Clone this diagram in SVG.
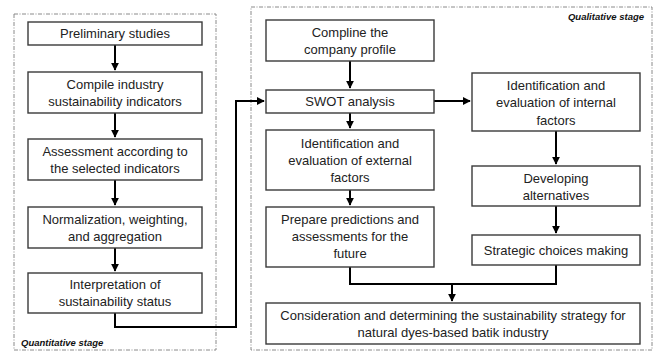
<svg xmlns="http://www.w3.org/2000/svg" width="656" height="352" viewBox="0 0 656 352">
<defs>
<marker id="ah" viewBox="0 0 10 10" refX="9" refY="5" markerWidth="4" markerHeight="4" orient="auto" markerUnits="strokeWidth">
<path d="M0,0 L10,5 L0,10 z" fill="#000"/>
</marker>
<style>
.box{fill:#fff;stroke:#3a3a3a;stroke-width:1.4}
.frame{fill:none;stroke:#8a8a8a;stroke-width:1;stroke-dasharray:4 1.5 1 1.5}
.t{font-family:"Liberation Sans",Arial,sans-serif;font-size:13px;fill:#222;text-anchor:middle}
.lbl{font-family:"Liberation Sans",Arial,sans-serif;font-size:9.5px;font-weight:bold;font-style:italic;fill:#111}
.c{fill:none;stroke:#000;stroke-width:2}
</style>
</defs>
<rect width="656" height="352" fill="#fff"/>
<g id="frames">
<rect class="frame" x="14" y="14" width="202" height="336"/>
<rect class="frame" x="251" y="7" width="401" height="343"/>
<text class="lbl" x="644" y="20" text-anchor="end">Qualitative stage</text>
<text class="lbl" x="21" y="346">Quantitative stage</text>
</g>
<g id="connectors">
<path class="c" d="M115,45 V70" marker-end="url(#ah)"/>
<path class="c" d="M115,113 V137" marker-end="url(#ah)"/>
<path class="c" d="M115,180 V205" marker-end="url(#ah)"/>
<path class="c" d="M115,248 V271" marker-end="url(#ah)"/>
<path class="c" d="M115,313 V327 H236 V101 H264" marker-end="url(#ah)"/>
<path class="c" d="M350,61 V88" marker-end="url(#ah)"/>
<path class="c" d="M350,113 V128" marker-end="url(#ah)"/>
<path class="c" d="M350,190 V205" marker-end="url(#ah)"/>
<path class="c" d="M434,101 H470" marker-end="url(#ah)"/>
<path class="c" d="M556,131 V164" marker-end="url(#ah)"/>
<path class="c" d="M556,206 V233" marker-end="url(#ah)"/>
<path class="c" d="M350,267 V284 H556 V265"/>
<path class="c" d="M452,284 V301" marker-end="url(#ah)"/>
</g>
<g id="n1"><rect class="box" x="28" y="22" width="174" height="23"/><text class="t" x="115" y="38">Preliminary studies</text></g>
<g id="n2"><rect class="box" x="28" y="72" width="174" height="41"/><text class="t" x="115" y="88.5">Compile industry</text><text class="t" x="115" y="105.5">sustainability indicators</text></g>
<g id="n3"><rect class="box" x="28" y="139" width="174" height="41"/><text class="t" x="115" y="155.5">Assessment according to</text><text class="t" x="115" y="172.5">the selected indicators</text></g>
<g id="n4"><rect class="box" x="28" y="207" width="174" height="41"/><text class="t" x="115" y="223.5">Normalization, weighting,</text><text class="t" x="115" y="240.5">and aggregation</text></g>
<g id="n5"><rect class="box" x="28" y="273" width="174" height="40"/><text class="t" x="115" y="288.5">Interpretation of</text><text class="t" x="115" y="306">sustainability status</text></g>
<g id="n6"><rect class="box" x="266" y="20" width="168" height="41"/><text class="t" x="350" y="36.5">Compline the</text><text class="t" x="350" y="53.5">company profile</text></g>
<g id="n7"><rect class="box" x="266" y="90" width="168" height="23"/><text class="t" x="350" y="106">SWOT analysis</text></g>
<g id="n8"><rect class="box" x="266" y="130" width="168" height="60"/><text class="t" x="350" y="147.5">Identification and</text><text class="t" x="350" y="165">evaluation of external</text><text class="t" x="350" y="182">factors</text></g>
<g id="n9"><rect class="box" x="266" y="207" width="168" height="60"/><text class="t" x="350" y="223.5">Prepare predictions and</text><text class="t" x="350" y="240.5">assessments for the</text><text class="t" x="350" y="257.5">future</text></g>
<g id="n10"><rect class="box" x="472" y="73" width="168" height="58"/><text class="t" x="556" y="89.5">Identification and</text><text class="t" x="556" y="107">evaluation of internal</text><text class="t" x="556" y="124.5">factors</text></g>
<g id="n11"><rect class="box" x="472" y="166" width="168" height="40"/><text class="t" x="556" y="182.5">Developing</text><text class="t" x="556" y="199.5">alternatives</text></g>
<g id="n12"><rect class="box" x="472" y="235" width="168" height="30"/><text class="t" x="556" y="254.5">Strategic choices making</text></g>
<g id="n13"><rect class="box" x="266" y="303" width="374" height="41"/><text class="t" x="453" y="320">Consideration and determining the sustainability strategy for</text><text class="t" x="453" y="337">natural dyes-based batik industry</text></g>
</svg>
